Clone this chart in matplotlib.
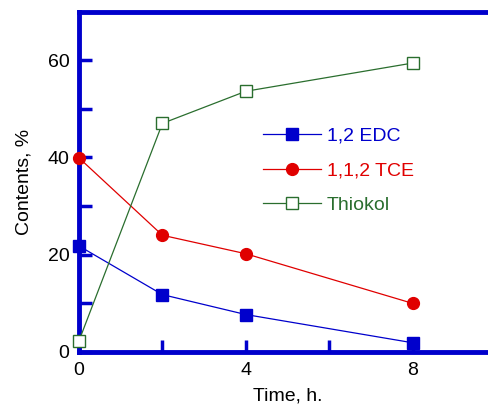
import matplotlib
matplotlib.use("Agg")
import matplotlib.pyplot as plt

time = [0, 2, 4, 8]
edc = [21.8, 11.8, 7.7, 1.9]
tce = [39.9, 24.0, 20.2, 10.0]
thiokol = [2.3, 47.0, 53.6, 59.4]

blue = "#0000CC"
red = "#E00000"
green = "#2A6E2E"

plt.rcParams['font.family'] = ['Liberation Sans', 'DejaVu Sans']
fig = plt.figure(figsize=(4.88, 4.07), dpi=100)
ax = fig.add_axes([79/488, 1 - 352/407, 417/488, (352 - 11.5)/407])

ax.plot(time, edc, color=blue, lw=0.9, marker='s', ms=8, mfc=blue, mec=blue,
        label='1,2 EDC', clip_on=False, zorder=5)
ax.plot(time, tce, color=red, lw=0.9, marker='o', ms=8.5, mfc=red, mec=red,
        label='1,1,2 TCE', clip_on=False, zorder=5)
ax.plot(time, thiokol, color=green, lw=0.9, marker='s', ms=8, mfc='white', mec=green,
        mew=1.0, label='Thiokol', clip_on=False, zorder=5)

ax.set_xlim(0, 10)
ax.set_ylim(0, 70)
ax.set_xticks([0, 2, 4, 6, 8])
ax.set_xticklabels(['0', '', '4', '', '8'])
ax.set_yticks([0, 10, 20, 30, 40, 50, 60])
ax.set_yticklabels(['0', '', '20', '', '40', '', '60'])
ax.tick_params(direction='in', length=9, width=2.5, color=blue, labelsize=14, pad=7)
for s in ['left', 'bottom', 'top']:
    ax.spines[s].set_color(blue)
    ax.spines[s].set_linewidth(3.5)
ax.spines['right'].set_visible(False)

ax.set_xlabel('Time, h.', fontsize=14, labelpad=6)
ax.set_ylabel('Contents, %', fontsize=14, labelpad=11)

leg = ax.legend(loc='upper left', bbox_to_anchor=(0.441, 0.66), frameon=False,
                borderpad=0, borderaxespad=0,
                fontsize=14, handlelength=3.0, labelspacing=0.87, handletextpad=0.3)
for txt, c in zip(leg.get_texts(), [blue, red, green]):
    txt.set_color(c)

fig.savefig('out.png', dpi=100)
